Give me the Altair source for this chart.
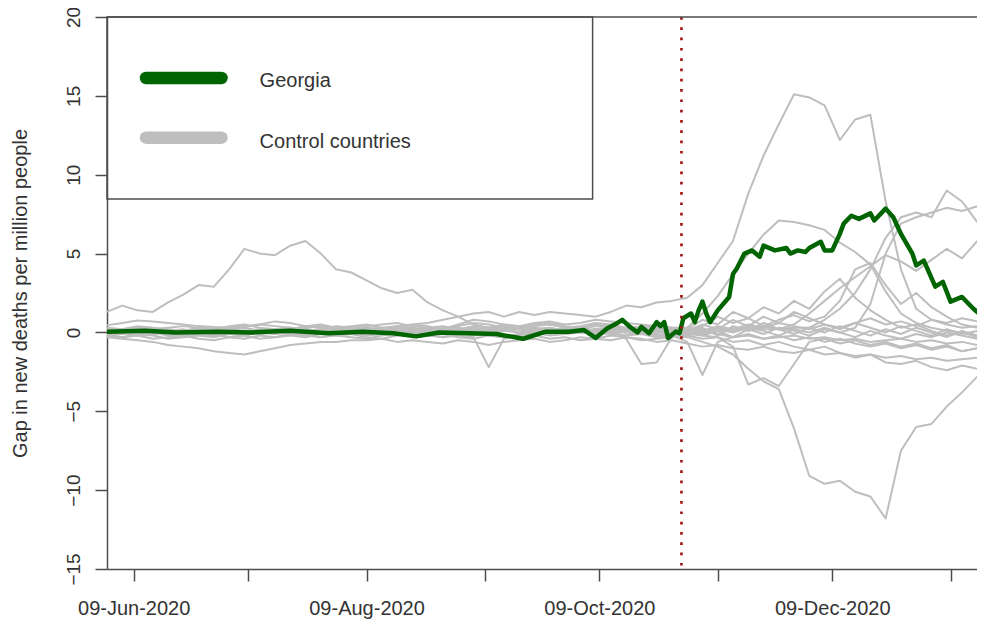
import altair as alt
import pandas as pd

# ---------------- data ----------------
# control countries: values every 4 days starting 02-Jun-2020
ctrl_dates = pd.date_range("2020-06-02", periods=59, freq="4D").strftime("%Y-%m-%d").tolist()

c01 = [1.3,1.7,1.4,1.3,1.9,2.4,3.0,2.9,4.0,5.3,5.0,4.9,5.5,5.8,5.0,4.0,3.8,3.3,2.8,2.5,2.7,1.9,1.4,1.0,0.5,0.3,0.4,0.2,0.3,0.1,0.2,0.3,0.1,0.2,0.0,-0.1,0.1,0.0,
       -0.2,0.1,-0.1,-0.3,-0.2,-0.4,-0.3,-0.2,-0.4,-0.3,-0.5,-0.4,-0.6,-0.5,-0.4,-0.6,-0.5,-0.7,-0.6,-0.8,-0.7]
c02 = [-0.3,-0.4,-0.5,-0.6,-0.8,-0.9,-1.0,-1.2,-1.3,-1.4,-1.2,-1.0,-0.8,-0.7,-0.6,-0.6,-0.5,-0.5,-0.4,-0.6,-0.5,
       -0.6,-0.7,-0.5,-0.6,-0.8,-0.6,-0.5,-0.4,-0.6,-0.5,-0.3,-0.4,-0.5,-0.3,-0.4,-0.6,-0.5,
       -0.7,-0.9,-0.8,-1.0,-1.1,-0.9,-1.2,-1.3,-1.1,-1.4,-1.3,-1.5,-1.4,-1.6,-1.5,-1.7,-1.6,-1.8,-1.7,-1.6,-1.7]
c03 = [0.46,0.6,0.75,0.7,0.6,0.5,0.4,0.35,0.3,0.35,0.5,0.7,0.6,0.4,0.5,0.3,0.4,0.5,0.3,0.4,0.5,0.6,0.8,1.0,1.2,1.3,1.0,1.3,1.1,1.3,1.2,1.1,1.0,1.3,1.7,1.6,1.9,2.0,
       2.2,3.0,4.4,5.8,8.8,11.2,13.2,15.1,14.9,14.4,12.2,13.5,13.8,8.3,4.0,1.5,0.8,0.5,0.3,0.4,0.2]
c04 = [0.1,0.2,0.3,0.2,0.3,0.4,0.3,0.2,0.3,0.4,0.5,0.4,0.3,0.2,0.1,0.2,0.3,0.4,0.5,0.6,0.4,0.3,0.2,0.5,0.8,0.7,0.5,0.4,0.6,0.7,0.5,0.6,0.8,0.7,0.6,0.5,0.4,0.3,
       0.3,1.2,2.3,3.7,5.0,6.2,7.1,7.0,6.8,6.5,5.7,5.1,4.3,2.6,1.2,0.6,0.3,0.1,0.0,-0.2,-0.1]
c05 = [-0.1,0.0,-0.2,-0.1,0.1,0.0,-0.2,-0.3,-0.1,0.0,0.1,-0.1,0.0,0.2,0.1,-0.1,0.0,0.1,0.2,0.0,-0.1,0.1,0.2,0.0,-0.2,-0.1,0.1,0.3,0.2,0.0,-0.1,0.1,0.2,0.0,-0.2,-0.1,-0.3,-0.2,
       -0.3,-0.6,-0.9,-1.4,-2.3,-3.1,-3.6,-6.1,-9.1,-9.6,-9.4,-10.1,-10.4,-11.8,-7.5,-6.0,-5.8,-4.7,-3.8,-2.8,-2.2]
c06 = [-0.2,-0.3,-0.2,-0.4,-0.3,-0.2,-0.4,-0.5,-0.3,-0.4,-0.2,-0.3,-0.1,-0.2,-0.3,-0.2,-0.1,-0.3,-0.4,-0.2,-0.1,-0.2,-0.3,-0.1,0.0,-0.2,-0.3,-0.1,0.0,-0.2,-0.1,0.1,0.0,-0.1,-0.2,0.0,-0.1,-0.2,
       -0.1,-0.2,-0.3,-0.9,-3.3,-2.9,-3.4,-2.0,-0.6,-0.4,-0.7,-0.5,-0.8,-0.6,-0.9,-0.7,-1.0,-0.8,-1.2,-1.0,-1.1]
c07 = [0.2,0.1,0.3,0.2,0.0,0.1,0.2,0.3,0.2,0.1,0.0,0.2,0.3,0.1,0.2,0.4,0.3,0.1,0.2,0.3,0.5,0.4,0.2,0.3,0.1,0.2,0.4,0.3,0.5,0.6,0.4,0.3,0.5,0.4,0.2,0.3,0.1,-0.2,
       -0.6,-2.7,-0.6,-0.3,0.2,-0.1,0.3,0.1,-0.2,0.2,0.0,-0.3,0.1,-0.2,-0.4,-0.1,-0.3,0.0,-0.2,-0.4,-0.3]
c08 = [0.0,-0.1,0.1,0.0,-0.2,-0.1,0.0,0.1,-0.1,-0.2,0.0,0.1,0.2,0.0,-0.1,0.1,0.0,-0.2,-0.1,0.1,0.0,-0.1,-0.3,-0.2,-0.3,-2.2,-0.4,-0.2,0.0,-0.1,0.1,0.2,0.0,-0.1,0.1,0.0,-0.2,-0.1,
       0.0,0.3,-0.2,0.4,0.1,0.6,0.2,-0.1,0.3,0.0,0.4,0.1,-0.2,0.2,-0.1,0.3,0.0,-0.3,0.1,-0.2,0.0]
c09 = [-0.1,0.1,0.0,0.2,0.1,-0.1,0.0,0.1,0.2,0.3,0.1,0.0,0.2,0.4,0.3,0.1,0.2,0.3,0.1,0.0,0.2,0.3,0.4,0.2,0.1,0.3,0.5,0.4,0.2,0.3,0.1,0.0,0.2,0.1,-0.4,-2.0,-1.9,-0.3,
       0.1,0.5,0.2,0.8,0.4,1.0,0.6,1.3,0.9,0.5,0.2,0.6,0.3,0.0,0.4,0.1,-0.2,0.2,-0.1,0.1,-0.2]
c10 = [0.1,0.0,0.1,0.2,0.1,0.0,-0.1,0.0,0.1,0.0,-0.1,0.1,0.0,-0.1,0.0,0.1,0.2,0.0,0.1,0.2,0.3,0.1,0.0,0.2,0.4,0.3,0.2,0.4,0.3,0.1,0.2,0.0,0.1,0.3,0.2,0.0,0.1,0.2,
       0.0,0.2,-0.1,0.3,0.1,0.4,0.2,0.3,0.3,0.8,1.5,2.5,4.0,6.0,7.3,7.6,7.3,9.0,8.3,7.0,7.8]
c11 = [-0.2,-0.1,0.0,-0.1,0.1,0.0,-0.1,-0.2,0.0,0.1,0.0,-0.1,0.1,0.2,0.0,-0.1,0.0,0.2,0.3,0.1,0.0,-0.1,0.1,0.0,0.2,0.1,0.3,0.2,0.0,0.1,-0.1,0.0,0.2,0.3,0.1,0.2,0.0,0.1,
       0.1,-0.1,0.2,0.0,0.3,0.1,-0.2,0.2,0.0,0.3,0.0,0.3,1.8,5.0,6.9,7.3,7.6,7.9,7.7,8.0,7.8]
c12 = [0.3,0.2,0.4,0.3,0.2,0.1,0.3,0.2,0.4,0.5,0.3,0.2,0.1,0.3,0.4,0.2,0.1,0.3,0.2,0.4,0.3,0.1,0.2,0.4,0.6,0.5,0.3,0.2,0.4,0.5,0.3,0.4,0.6,0.5,0.3,0.2,0.4,0.3,
       0.2,0.0,0.3,0.1,0.4,0.2,0.2,0.5,1.2,2.0,2.8,3.5,4.2,4.9,4.5,3.9,4.6,5.3,4.7,5.8,5.4]
c13 = [0.0,0.1,-0.1,0.0,0.1,0.2,0.0,-0.1,0.0,0.1,0.2,0.1,-0.1,0.0,0.1,0.0,-0.1,0.1,0.0,0.2,0.1,0.0,0.2,0.1,0.3,0.2,0.1,0.0,0.2,0.3,0.1,0.2,0.4,0.3,0.2,0.4,0.3,0.1,
       0.2,0.8,0.5,1.3,0.9,1.6,1.2,2.0,1.5,2.6,3.4,2.2,1.4,0.8,0.3,0.5,0.1,-0.2,0.0,-0.3,-0.1]
c14 = [-0.1,0.0,0.1,-0.1,0.0,-0.2,-0.1,0.0,0.1,0.0,-0.1,0.0,0.1,0.2,0.0,0.1,-0.1,0.0,0.1,-0.1,0.0,0.2,0.1,-0.1,0.0,0.1,0.2,0.0,-0.1,0.1,0.3,0.2,0.0,0.1,0.2,0.4,0.3,0.2,
       0.1,0.4,1.0,0.6,0.9,0.4,0.8,1.1,0.7,1.0,2.0,4.0,4.4,3.0,1.8,2.5,1.6,1.0,0.5,0.3,0.2]
c15 = [-0.2,-0.3,-0.1,-0.2,-0.4,-0.3,-0.2,-0.1,-0.3,-0.2,-0.4,-0.3,-0.2,-0.3,-0.1,-0.2,-0.3,-0.4,-0.2,-0.1,-0.3,-0.2,-0.1,-0.3,-0.4,-0.2,-0.3,-0.1,-0.2,-0.4,-0.3,-0.5,-0.4,-0.2,-0.3,-0.5,-0.4,-0.3,
       -0.2,-0.4,-0.3,-0.6,-0.5,-0.8,-0.6,-0.9,-1.1,-0.9,-1.3,-1.6,-1.4,-1.9,-2.0,-1.8,-2.2,-2.4,-2.1,-2.3,-2.1]
c16 = [0.1,0.0,-0.1,0.1,0.0,0.1,0.2,0.1,0.0,-0.1,0.1,0.2,0.0,0.1,0.2,0.3,0.1,0.0,0.1,0.2,0.0,0.1,0.3,0.2,0.0,0.1,0.2,0.4,0.3,0.1,0.2,0.3,0.1,0.0,0.2,0.1,0.3,0.2,
       0.0,-0.2,0.1,-0.3,-0.1,-0.4,-0.2,-0.5,-0.3,-0.6,-0.4,-0.7,-0.9,-0.7,-1.0,-0.8,-1.1,-0.9,-1.2,-1.0,-1.1]
c17 = [0.0,0.0,0.1,0.0,-0.1,0.0,0.1,0.0,-0.1,0.0,0.1,0.0,0.0,-0.1,0.0,0.1,0.0,-0.1,0.0,0.1,0.0,0.1,0.0,-0.1,0.1,0.0,0.1,0.2,0.1,0.0,0.1,0.0,-0.1,0.1,0.0,0.1,0.2,0.1,
       0.3,0.1,0.4,0.2,0.5,0.3,0.6,0.4,0.2,0.5,0.3,0.6,0.9,0.5,0.7,0.4,0.8,0.6,0.9,0.7,0.8]

controls = {"c01": c01, "c02": c02, "c03": c03, "c04": c04, "c05": c05, "c06": c06,
            "c07": c07, "c08": c08, "c09": c09, "c10": c10, "c11": c11, "c12": c12,
            "c13": c13, "c14": c14, "c15": c15, "c16": c16, "c17": c17}

georgia_dates = ["2020-06-02","2020-06-12","2020-06-20","2020-07-01","2020-07-10","2020-07-20","2020-07-30",
                 "2020-08-08","2020-08-16","2020-08-22","2020-08-28","2020-09-05","2020-09-12","2020-09-19",
                 "2020-09-25","2020-10-01","2020-10-05","2020-10-08","2020-10-11","2020-10-13","2020-10-15",
                 "2020-10-17","2020-10-19","2020-10-20","2020-10-22","2020-10-24","2020-10-25","2020-10-26",
                 "2020-10-27","2020-10-29","2020-10-30","2020-10-31","2020-11-02","2020-11-03","2020-11-04",
                 "2020-11-05","2020-11-06","2020-11-07","2020-11-09","2020-11-12","2020-11-13","2020-11-14",
                 "2020-11-16","2020-11-18","2020-11-20","2020-11-21","2020-11-24","2020-11-27","2020-11-28",
                 "2020-11-30","2020-12-02","2020-12-03","2020-12-06","2020-12-07","2020-12-09","2020-12-11",
                 "2020-12-12","2020-12-14","2020-12-16","2020-12-19","2020-12-20","2020-12-23","2020-12-25",
                 "2020-12-27","2020-12-30","2020-12-31","2021-01-02","2021-01-05","2021-01-07","2021-01-09",
                 "2021-01-12","2021-01-15","2021-01-18"]
georgia_values = [0.05,0.1,0.0,0.05,0.0,0.1,-0.05,
                  0.05,-0.05,-0.25,0.0,-0.05,-0.1,-0.4,
                  0.05,0.05,0.15,-0.35,0.25,0.5,0.8,
                  0.35,0.0,0.35,-0.05,0.65,0.4,0.65,
                  -0.35,0.05,-0.05,0.9,1.2,0.65,1.4,
                  1.95,1.2,0.65,1.4,2.25,3.7,4.05,
                  5.0,5.2,4.8,5.5,5.2,5.35,5.0,
                  5.2,5.1,5.35,5.75,5.2,5.2,6.25,
                  6.9,7.4,7.2,7.55,7.1,7.85,7.3,
                  6.25,5.0,4.25,4.55,2.9,3.2,1.95,
                  2.25,1.5,0.9]

election_date = ["2020-10-30T12:00:00Z"]

x_tick_dates = ["2020-06-09","2020-07-09","2020-08-09","2020-09-09","2020-10-09",
                "2020-11-09","2020-12-09","2021-01-09"]
x_tick_labels = ["09-Jun-2020","","09-Aug-2020","","09-Oct-2020","","09-Dec-2020",""]
y_ticks = [-15, -10, -5, 0, 5, 10, 15, 20]

legend_labels = ["Georgia", "Control countries"]
legend_colors = ["#006400", "#bebebe"]

# ---------------- build ----------------
rows = []
for name, vals in controls.items():
    assert len(vals) == len(ctrl_dates), name
    for d, v in zip(ctrl_dates, vals):
        rows.append({"date": d, "value": v, "series": name})
ctrl_df = pd.DataFrame(rows)
geo_df = pd.DataFrame({"date": georgia_dates, "value": georgia_values})
elec_df = pd.DataFrame({"date": election_date})
one = pd.DataFrame({"a": [0]})

W, H = 870, 552
FONT = "Liberation Sans"
AX = "#4d4d4d"
TXT = "#333333"


def ms(s):
    return int(pd.Timestamp(s, tz="UTC").value // 10**6)


expr = "''"
for d, lab in reversed(list(zip(x_tick_dates, x_tick_labels))):
    expr = f"time(datum.value) == {ms(d)} ? '{lab}' : ({expr})"

xscale = alt.Scale(type="utc",
                   domain=[alt.DateTime(year=2020, month=6, date=2, utc=True),
                           alt.DateTime(year=2021, month=1, date=15, hours=22, minutes=20, utc=True)])
yscale = alt.Scale(domain=[-15, 20], nice=False, zero=False)

xaxis = alt.Axis(values=[alt.DateTime(year=int(d[:4]), month=int(d[5:7]), date=int(d[8:]), utc=True)
                         for d in x_tick_dates],
                 labelExpr=expr, title=None, grid=False, tickSize=12, tickWidth=1.5,
                 tickColor=AX, domainColor=AX, domainWidth=1.5, labelPadding=33,
                 labelBaseline="alphabetic", labelAlign="center", labelFont=FONT,
                 labelFontSize=20, labelColor=TXT, labelFlush=False, labelOverlap=False)
yaxis = alt.Axis(values=y_ticks, title="Gap in new deaths per million people", grid=False,
                 tickSize=12, tickWidth=1.5, tickColor=AX, domainColor=AX, domainWidth=1.5,
                 labelAngle=270, labelAlign="center", labelBaseline="alphabetic",
                 labelPadding=16, labelFont=FONT, labelFontSize=19, labelColor=TXT,
                 labelFlush=False, labelOverlap=False,
                 titleFont=FONT, titleFontSize=20, titleFontWeight="normal", titleColor=TXT,
                 titleAngle=270, titleX=-81, titleY=276, titleAlign="center",
                 titleBaseline="alphabetic")

x_enc = alt.X("date:T", scale=xscale, axis=xaxis)
y_enc = alt.Y("value:Q", scale=yscale, axis=yaxis)

ctrl_layer = alt.Chart(ctrl_df).mark_line(color=legend_colors[1], strokeWidth=2, clip=True,
                                          strokeJoin="round").encode(
    x=x_enc, y=y_enc, detail="series:N")

geo_layer = alt.Chart(geo_df).mark_line(color=legend_colors[0], strokeWidth=4.5, clip=True,
                                        strokeJoin="round", strokeCap="round").encode(
    x=alt.X("date:T", scale=xscale), y=alt.Y("value:Q", scale=yscale))

elec_layer = alt.Chart(elec_df).mark_rule(color="#a31a1a", strokeWidth=2.7,
                                          strokeDash=[2.7, 7.6]).encode(
    x=alt.X("date:T", scale=xscale), y=alt.value(0), y2=alt.value(H))

top_border = alt.Chart(one).mark_rule(color=AX, strokeWidth=1.5).encode(
    x=alt.value(0), x2=alt.value(W), y=alt.value(0))

legend_box = alt.Chart(one).mark_rect(fillOpacity=0, stroke=AX, strokeWidth=1.5).encode(
    x=alt.value(0), x2=alt.value(485.6), y=alt.value(0), y2=alt.value(182))

leg_geo_line = alt.Chart(one).mark_rule(color=legend_colors[0], strokeWidth=12.5,
                                        strokeCap="round").encode(
    x=alt.value(39), x2=alt.value(114.5), y=alt.value(61))
leg_ctrl_line = alt.Chart(one).mark_rule(color=legend_colors[1], strokeWidth=12.5,
                                         strokeCap="round").encode(
    x=alt.value(39), x2=alt.value(114.5), y=alt.value(120.7))
leg_geo_text = alt.Chart(one).mark_text(text=legend_labels[0], align="left", baseline="alphabetic",
                                        font=FONT, fontSize=20, color=TXT).encode(
    x=alt.value(152.6), y=alt.value(69.7))
leg_ctrl_text = alt.Chart(one).mark_text(text=legend_labels[1], align="left", baseline="alphabetic",
                                         font=FONT, fontSize=20, color=TXT).encode(
    x=alt.value(152.6), y=alt.value(131.2))

chart = alt.layer(
    ctrl_layer, geo_layer, elec_layer, top_border, legend_box,
    leg_geo_line, leg_ctrl_line, leg_geo_text, leg_ctrl_text
).properties(
    width=W, height=H,
    padding={"left": 99, "top": 9, "right": 0, "bottom": 50},
    autosize=alt.AutoSizeParams(type="none"),
    background="white",
).configure_view(stroke=None)

chart.save("out.html", embed_options={"renderer": "svg", "actions": False})
